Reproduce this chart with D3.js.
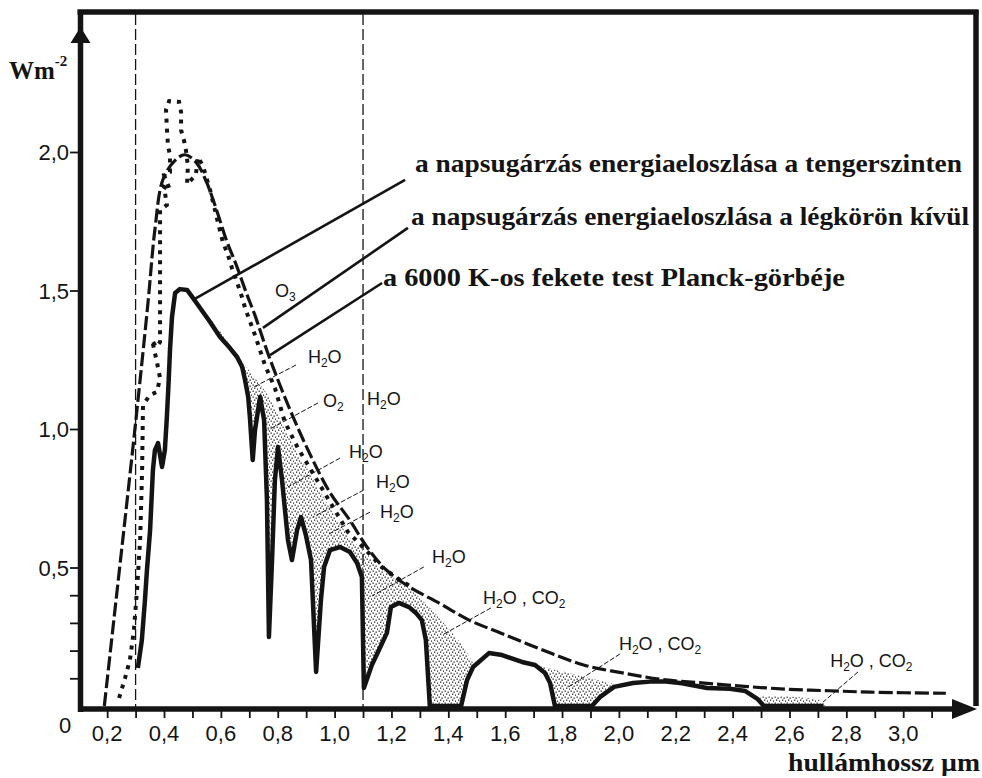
<!DOCTYPE html>
<html><head><meta charset="utf-8">
<script src="https://cdn.jsdelivr.net/npm/d3@7"></script>
<style>body{margin:0;background:#fff}svg{display:block}</style>
</head><body>
<svg id="c" width="982" height="778"></svg>
<script>
// ---------------- DATA (wavelength µm, W m^-2 relative) ----------------
const planckCurve = [[0.19,0],[0.231,0.38],[0.27,0.74],[0.308,1.1],[0.344,1.46],[0.368,1.72],[0.396,1.9],[0.439,1.97],[0.474,1.99],[0.515,1.96],[0.55,1.89],[0.585,1.79],[0.62,1.68],[0.655,1.59],[0.69,1.49],[0.72,1.41],[0.77,1.26],[0.843,1.07],[0.913,0.91],[0.984,0.77],[1.054,0.67],[1.113,0.575],[1.183,0.49],[1.263,0.43],[1.37,0.37],[1.473,0.31],[1.588,0.262],[1.732,0.202],[1.876,0.148],[2.02,0.118],[2.165,0.094],[2.31,0.082],[2.453,0.07],[2.6,0.06],[2.74,0.055],[2.886,0.05],[3.15,0.046]];

const extraterrestrial = [[0.242,0.029],[0.263,0.101],[0.28,0.166],[0.294,0.274],[0.305,0.419],[0.316,0.599],[0.323,0.852],[0.326,1.087],[0.351,1.123],[0.375,1.134],[0.386,1.184],[0.375,1.242],[0.358,1.321],[0.372,1.296],[0.386,1.314],[0.386,1.466],[0.386,1.646],[0.386,1.791],[0.41,1.809],[0.4,1.874],[0.421,1.863],[0.4,1.917],[0.421,1.928],[0.421,1.989],[0.414,2.022],[0.41,2.087],[0.407,2.152],[0.418,2.184],[0.453,2.181],[0.46,2.144],[0.46,2.079],[0.47,2.043],[0.477,2.007],[0.484,1.949],[0.481,1.884],[0.512,1.917],[0.519,1.982],[0.537,1.949],[0.562,1.863],[0.579,1.791],[0.59,1.744],[0.607,1.675],[0.625,1.628],[0.639,1.581],[0.66,1.52],[0.674,1.477],[0.685,1.437],[0.72,1.339],[0.755,1.231],[0.79,1.148],[0.825,1.025],[0.871,0.931],[0.917,0.852],[0.984,0.736],[1.047,0.628],[1.11,0.563],[1.17,0.498],[1.23,0.455],[1.265,0.433]];

const seaLevel = [[0.308,0.137],[0.322,0.238],[0.333,0.383],[0.34,0.491],[0.351,0.635],[0.361,0.852],[0.368,0.924],[0.379,0.949],[0.393,0.863],[0.403,0.924],[0.41,1.043],[0.416,1.166],[0.421,1.285],[0.428,1.404],[0.439,1.491],[0.456,1.505],[0.481,1.502],[0.499,1.477],[0.527,1.437],[0.562,1.386],[0.597,1.332],[0.632,1.292],[0.657,1.26],[0.675,1.224],[0.685,1.177],[0.696,1.116],[0.702,1.043],[0.712,0.888],[0.72,0.996],[0.738,1.116],[0.752,1.032],[0.762,0.744],[0.769,0.249],[0.78,0.527],[0.79,0.816],[0.801,0.935],[0.815,0.816],[0.836,0.599],[0.85,0.527],[0.868,0.635],[0.882,0.682],[0.899,0.617],[0.917,0.527],[0.935,0.123],[0.952,0.383],[0.963,0.502],[0.984,0.563],[1.019,0.574],[1.054,0.556],[1.079,0.516],[1.096,0.466],[1.103,0.065],[1.131,0.148],[1.156,0.202],[1.184,0.264],[1.198,0.357],[1.226,0.372],[1.262,0.357],[1.286,0.336],[1.307,0.31],[1.321,0.238],[1.335,0],[1.445,0],[1.466,0.094],[1.487,0.141],[1.543,0.191],[1.589,0.184],[1.659,0.159],[1.705,0.148],[1.74,0.119],[1.758,0.083],[1.775,0],[1.905,0],[1.933,0.032],[1.983,0.069],[2.05,0.083],[2.11,0.088],[2.166,0.088],[2.222,0.082],[2.31,0.065],[2.39,0.062],[2.445,0.054],[2.487,0.026],[2.51,0],[2.72,0]];

// upper edge of the stippled absorption areas
const absorptionEnvelope = [[0.52,1.44],[0.56,1.40],[0.60,1.35],[0.64,1.29],[0.67,1.25],[0.70,1.21],[0.74,1.16],[0.78,1.10],[0.82,1.01],[0.87,0.91],[0.92,0.83],[0.98,0.72],[1.05,0.61],[1.11,0.55],[1.17,0.49],[1.23,0.445],[1.27,0.42],[1.30,0.39],[1.35,0.34],[1.40,0.28],[1.45,0.22],[1.49,0.15],[1.52,0],[1.70,0],[1.72,0.145],[1.80,0.125],[1.86,0.11],[1.92,0.095],[1.98,0.08],[2.02,0],[2.48,0],[2.50,0.035],[2.60,0.035],[2.70,0.025],[2.73,0]];

const dividerLines = [0.3, 1.1];
const xTickValues = d3.range(2, 32).map(i => i / 10);
const xTickLabels = ["0,2","0,4","0,6","0,8","1,0","1,2","1,4","1,6","1,8","2,0","2,2","2,4","2,6","2,8","3,0"];
const yTickValues = [0.1,0.2,0.3,0.4,0.5,1.0,1.5,2.0];
const yTickLabels = ["0,5","1,0","1,5","2,0"];
const yLabelValues = [0.5,1.0,1.5,2.0];

const legendTexts = ["a napsugárzás energiaeloszlása a tengerszinten","a napsugárzás energiaeloszlása a légkörön kívül","a 6000 K-os fekete test Planck-görbéje"];
const legendAnchor = [[1.283,1.928],[1.269,1.736],[1.170,1.516]];
const legendLeaders = [[0.502,1.466,1.248,1.899],[0.748,1.365,1.258,1.726],[0.773,1.267,1.167,1.527]];

const bandLabels = [["O","3",""],["H","2","O"],["O","2",""],["H","2","O"],["H","2","O"],["H","2","O"],["H","2","O"],["H","2","O"],["H","2","O , CO","2"],["H","2","O , CO","2"],["H","2","O , CO","2"]];
const bandAnchor = [[0.790,1.477],[0.906,1.238],[0.959,1.079],[1.114,1.087],[1.051,0.895],[1.146,0.787],[1.160,0.679],[1.343,0.516],[1.522,0.368],[2.0,0.202],[2.743,0.141]];
const bandLeaders = [[0.864,1.231,0.7095,1.148],[0.9416,1.094,0.7657,0.996],[1.019,0.895,0.836,0.791],[1.103,0.780,0.924,0.682],[1.1245,0.700,0.980,0.621],[1.314,0.502,1.1315,0.397],[1.550,0.354,1.378,0.256],[2.004,0.188,1.817,0.065],[2.841,0.123,2.718,0.014]];

// ---------------- LAYOUT ----------------
const svg = d3.select("#c");
const ink = "#141414";
const x = d3.scaleLinear().domain([0, 3.2]).range([50.3, 50.3 + 284.3 * 3.2]);
const y = d3.scaleLinear().domain([0, 2]).range([706, 706 - 554]);

const defs = svg.append("defs");
const pat = defs.append("pattern").attr("id","stip").attr("patternUnits","userSpaceOnUse").attr("width",6).attr("height",6);
[[0.5,0.5],[3.5,1.5],[2,3.5],[5,4.5]].forEach(p => pat.append("rect").attr("x",p[0]).attr("y",p[1]).attr("width",1.3).attr("height",1.3).attr("fill","#222"));

// stippled absorption areas
function interp(arr, w){
  if (w <= arr[0][0]) return arr[0][1];
  for (let i = 1; i < arr.length; i++) {
    if (w <= arr[i][0]) { const a = arr[i-1], b = arr[i]; const t = (w - a[0]) / (b[0] - a[0] || 1); return a[1] + t * (b[1] - a[1]); }
  }
  return arr[arr.length-1][1];
}
const gridSet = new Set([...seaLevel.map(d=>d[0]), ...absorptionEnvelope.map(d=>d[0]), ...d3.range(520, 2731, 4).map(i=>i/1000)]);
const grid = [...gridSet].filter(w => w >= 0.52 && w <= 2.73).sort((a,b)=>a-b);
const fillData = grid.map(w => { const lo = interp(seaLevel, w); return {w, lo, hi: Math.max(lo, interp(absorptionEnvelope, w))}; });
svg.append("path").datum(fillData)
  .attr("d", d3.area().x(d=>x(d.w)).y0(d=>y(d.lo)).y1(d=>y(d.hi)))
  .attr("fill","url(#stip)");

// divider dashed lines
svg.selectAll(".div").data(dividerLines).enter().append("line")
  .attr("x1", d=>x(d)).attr("x2", d=>x(d)).attr("y1", 14).attr("y2", 707)
  .attr("stroke", ink).attr("stroke-width", 1.3).attr("stroke-dasharray","11,4");

// curves
svg.append("path").datum(planckCurve)
  .attr("d", d3.line().x(d=>x(d[0])).y(d=>y(d[1])).curve(d3.curveCatmullRom.alpha(0.5)))
  .attr("fill","none").attr("stroke",ink).attr("stroke-width",3.2).attr("stroke-dasharray","14,4");
svg.append("path").datum(extraterrestrial)
  .attr("d", d3.line().x(d=>x(d[0])).y(d=>y(d[1])))
  .attr("fill","none").attr("stroke",ink).attr("stroke-width",4).attr("stroke-dasharray","4,6");
svg.append("path").datum(seaLevel)
  .attr("d", d3.line().x(d=>x(d[0])).y(d=>y(d[1])))
  .attr("fill","none").attr("stroke",ink).attr("stroke-width",4.5).attr("stroke-linejoin","round");

// frame & axes
svg.append("line").attr("x1",77.5).attr("x2",978.5).attr("y1",12).attr("y2",12).attr("stroke",ink).attr("stroke-width",5.5);
svg.append("line").attr("x1",976).attr("x2",976).attr("y1",10).attr("y2",706).attr("stroke",ink).attr("stroke-width",5.5);
svg.append("line").attr("x1",80.5).attr("x2",80.5).attr("y1",10).attr("y2",712).attr("stroke",ink).attr("stroke-width",5.5);
svg.append("line").attr("x1",78).attr("x2",958).attr("y1",709).attr("y2",709).attr("stroke",ink).attr("stroke-width",5.5);
svg.append("path").attr("d","M80.5,27 L70.5,43 L90.5,43 Z").attr("fill",ink);
svg.append("path").attr("d","M977,709 L952,699 L952,719 Z").attr("fill",ink);

// x ticks
const gx = svg.append("g").attr("transform","translate(0,711)")
  .call(d3.axisBottom(x).tickValues(xTickValues).tickSize(7).tickFormat(""));
gx.select(".domain").remove();
gx.selectAll("line").attr("stroke",ink).attr("stroke-width",1.8);
svg.selectAll(".xl").data(xTickLabels).enter().append("text")
  .attr("x",(d,i)=>x(0.2 + i*0.2)).attr("y",741)
  .attr("text-anchor","middle").attr("font-family","'Liberation Sans', Arial, sans-serif")
  .attr("font-size",22).attr("fill",ink).text(d=>d);

// y ticks
const gy = svg.append("g").attr("transform","translate(78,0)")
  .call(d3.axisLeft(y).tickValues(yTickValues).tickSize(8).tickFormat(""));
gy.select(".domain").remove();
gy.selectAll("line").attr("stroke",ink).attr("stroke-width",1.8);
svg.selectAll(".yl").data(yTickLabels).enter().append("text")
  .attr("x",69).attr("y",(d,i)=>y(yLabelValues[i])+8)
  .attr("text-anchor","end").attr("font-family","'Liberation Sans', Arial, sans-serif")
  .attr("font-size",22).attr("fill",ink).text(d=>d);
svg.append("text").attr("x",59).attr("y",733).attr("font-family","'Liberation Sans', Arial, sans-serif")
  .attr("font-size",22).attr("fill",ink).text("0");

// axis titles
const yt = svg.append("text").attr("x",9).attr("y",79).attr("font-family","'Liberation Serif','Times New Roman',serif")
  .attr("font-weight","bold").attr("font-size",25).attr("fill",ink);
yt.append("tspan").text("Wm");
yt.append("tspan").attr("font-size",15).attr("dy",-13).text("-2");
svg.append("text").attr("x",788).attr("y",771).attr("font-family","'Liberation Serif','Times New Roman',serif")
  .attr("font-weight","bold").attr("font-size",25).attr("fill",ink)
  .attr("textLength",192).attr("lengthAdjust","spacingAndGlyphs").text("hullámhossz µm");

// legend leaders & texts
svg.selectAll(".ll").data(legendLeaders).enter().append("line")
  .attr("x1",d=>x(d[0])).attr("y1",d=>y(d[1])).attr("x2",d=>x(d[2])).attr("y2",d=>y(d[3]))
  .attr("stroke",ink).attr("stroke-width",2.6);
const legendWidths = [547, 558, 462];
svg.selectAll(".lt").data(legendTexts).enter().append("text")
  .attr("x",(d,i)=>x(legendAnchor[i][0])).attr("y",(d,i)=>y(legendAnchor[i][1]))
  .attr("font-family","'Liberation Serif','Times New Roman',serif").attr("font-weight","bold")
  .attr("font-size",26).attr("fill",ink)
  .attr("textLength",(d,i)=>legendWidths[i]).attr("lengthAdjust","spacingAndGlyphs").text(d=>d);

// band leaders & labels
svg.selectAll(".bl").data(bandLeaders).enter().append("line")
  .attr("x1",d=>x(d[0])).attr("y1",d=>y(d[1])).attr("x2",d=>x(d[2])).attr("y2",d=>y(d[3]))
  .attr("stroke",ink).attr("stroke-width",1).attr("stroke-dasharray","5,2");
bandLabels.forEach((parts,i) => {
  const t = svg.append("text").attr("x",x(bandAnchor[i][0])).attr("y",y(bandAnchor[i][1]))
    .attr("font-family","'Liberation Sans', Arial, sans-serif").attr("font-size",18).attr("fill",ink);
  t.append("tspan").text(parts[0]);
  t.append("tspan").attr("font-size",12).attr("dy",4).text(parts[1]);
  if (parts[2]) t.append("tspan").attr("dy",-4).text(parts[2]);
  if (parts[3]) t.append("tspan").attr("font-size",12).attr("dy",4).text(parts[3]);
});
</script>
</body></html>
